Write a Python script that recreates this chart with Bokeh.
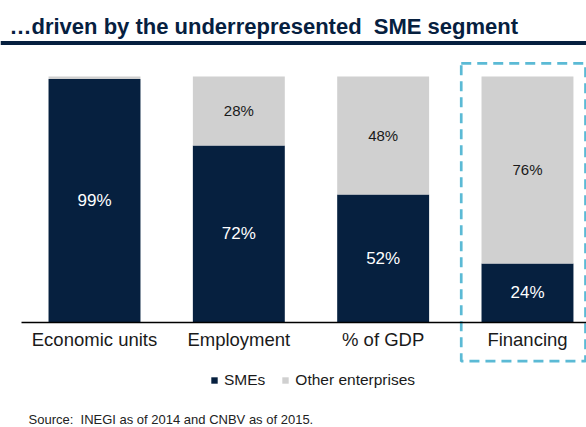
from bokeh.plotting import figure
from bokeh.models import (Range1d, LinearAxis, FixedTicker, Label, Span, Legend,
                          LegendItem, ColumnDataSource)
from bokeh.core.properties import value
from bokeh.embed import file_html
from bokeh.resources import INLINE

# ---- data ----
categories = ["Economic units", "Employment", "% of GDP", "Financing"]
smes = [99, 72, 52, 24]
others = [1, 28, 48, 76]
series_names = ["SMEs", "Other enterprises"]
title_text = "\u2026driven by the underrepresented\u00a0 SME segment"
source_text = "Source:\u00a0 INEGI as of 2014 and CNBV as of 2015."

NAVY = "#06203f"
GREY = "#d0d0d0"
BLUE = "#5bbad5"
FONT = "Liberation Sans"

W, H = 586, 427
p = figure(width=W, height=H, output_backend="svg", toolbar_location=None,
           x_axis_location=None, y_axis_location=None,
           x_range=Range1d(-0.6513, 3.4089), y_range=Range1d(-42.68, 130.89),
           min_border=0, outline_line_color=None)
p.grid.visible = False
p.background_fill_color = "white"
p.border_fill_color = "white"

xs = list(range(len(categories)))
tops = [s + o for s, o in zip(smes, others)]
src = ColumnDataSource(dict(x=xs, sme=smes, other=others, top=tops,
                            sme_mid=[s / 2 for s in smes],
                            oth_mid=[s + o / 2 for s, o in zip(smes, others)],
                            sme_lbl=[f"{s}%" for s in smes],
                            oth_lbl=[f"{o}%" if o >= 5 else "" for o in others]))

r_sme = p.vbar(x="x", bottom=0, top="sme", width=0.637, source=src,
               fill_color=NAVY, line_color=None)
r_oth = p.vbar(x="x", bottom="sme", top="top", width=0.637, source=src,
               fill_color=GREY, line_color=None)

p.text(x="x", y="sme_mid", text="sme_lbl", source=src, text_color="white",
       text_font=value(FONT), text_font_size="17px", text_align="center",
       text_baseline="middle")
p.text(x="x", y="oth_mid", text="oth_lbl", source=src, text_color="#1a1a1a",
       text_font=value(FONT), text_font_size="15px", text_align="center",
       text_baseline="middle")

# dashed highlight box around Financing
p.quad(left=[2.541], right=[3.402], bottom=[-15.7], top=[105.3],
       fill_color=None, line_color=BLUE, line_width=2.7, line_dash="10 6")

# category axis on the zero line
ax = LinearAxis(ticker=FixedTicker(ticks=xs), fixed_location=0,
                bounds=(-0.506, 3.4089))
ax.major_label_overrides = {i: c for i, c in zip(xs, categories)}
ax.major_tick_in = 0
ax.major_tick_out = 0
ax.minor_tick_in = 0
ax.minor_tick_out = 0
ax.axis_line_color = "black"
ax.axis_line_width = 1.3
ax.major_label_text_font = FONT
ax.major_label_text_font_size = "18.5px"
ax.major_label_text_color = "#1a1a1a"
ax.major_label_standoff = 6
p.add_layout(ax, "below")

# title and underline
p.add_layout(Label(x=9, y=H - 26, x_units="screen", y_units="screen",
                   text=title_text, text_font=FONT, text_font_style="bold",
                   text_font_size="22px", text_color=NAVY,
                   text_baseline="alphabetic"))
p.add_layout(Span(location=H - 42.5, location_units="screen", dimension="width",
                  line_color=NAVY, line_width=4))

# legend
legend = Legend(items=[LegendItem(label=series_names[0], renderers=[r_sme]),
                       LegendItem(label=series_names[1], renderers=[r_oth])],
                orientation="horizontal", location=(210, 38),
                glyph_width=8, glyph_height=8, label_standoff=6, spacing=16,
                padding=0, margin=0, border_line_color=None,
                background_fill_alpha=0, label_text_font=FONT,
                label_text_font_size="15.5px", label_text_color="#1a1a1a",
                label_height=18)
p.add_layout(legend, "center")

# source note
p.add_layout(Label(x=28, y=8, x_units="screen", y_units="screen",
                   text=source_text, text_font=FONT, text_font_size="13px",
                   text_color="#222222", text_baseline="alphabetic"))

open("out.html", "w").write(file_html(p, INLINE))
